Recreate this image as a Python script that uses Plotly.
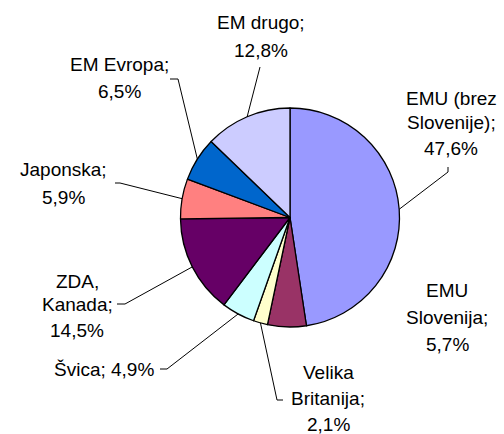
import math
import plotly.graph_objects as go

W, H = 504, 434

# ---- data ----
categories = ["EMU (brez\nSlovenije)", "EMU\nSlovenija", "Velika\nBritanija", "Švica",
              "ZDA,\nKanada", "Japonska", "EM Evropa", "EM drugo"]
values = [47.6, 5.7, 2.1, 4.9, 14.5, 5.9, 6.5, 12.8]
colors = ["#9999FF", "#993366", "#FFFFCC", "#CCFFFF", "#660066", "#FF8080", "#0066CC", "#CCCCFF"]
separators = ["\n", "\n", "\n", " ", "\n", "\n", "\n", "\n"]

# ---- layout (pixels) ----
CX, CY, R = 290.0, 217.5, 109.5
FONT = dict(family="Liberation Sans, Arial, sans-serif", size=19, color="#000000")
# centre x of label, y of each text line
label_pos = [
    (451, [98, 123, 148]),
    (447, [290, 317, 344]),
    (328, [372, 398, 424]),
    (104, [369]),
    (77, [281, 304, 330]),
    (63, [169, 197]),
    (119, [65, 92]),
    (261, [22, 50]),
]
# leader line points from label side (None = no line); edge point appended from data
leaders = [
    [(448, 167), (448, 172)],
    None,
    [(283, 400), (277, 400)],
    [(160, 369), (167, 369)],
    [(117, 304), (125, 304)],
    [(115, 183), (120, 183)],
    [(170, 79), (178, 79)],
    [(260, 67)],
]

def px(x):
    return x / W

def py(y):
    return 1 - y / H

fig = go.Figure(go.Pie(
    labels=[c.replace("\n", " ") for c in categories],
    values=values,
    sort=False,
    direction="clockwise",
    rotation=0,
    marker=dict(colors=colors, line=dict(color="#000000", width=1.3)),
    textinfo="none",
    hoverinfo="label+percent",
    showlegend=False,
    domain=dict(x=[px(CX - R), px(CX + R)], y=[py(CY + R), py(CY - R)]),
))

annotations = []
shapes = []
total = sum(values)
cum = 0.0
for i, (cat, val) in enumerate(zip(categories, values)):
    mid = (cum + val / 2) / total * 2 * math.pi
    cum += val
    ex = CX + R * math.sin(mid)
    ey = CY - R * math.cos(mid)
    text = cat + ";" + separators[i] + f"{val:.1f}%".replace(".", ",")
    lines = text.split("\n")
    lx, ys = label_pos[i]
    for ln, yy in zip(lines, ys):
        annotations.append(dict(
            x=px(lx), y=py(yy), xref="paper", yref="paper", text=ln,
            showarrow=False, xanchor="center", yanchor="middle", font=FONT,
        ))
    if leaders[i]:
        pts = leaders[i] + [(ex, ey)]
        for (a1, b1), (a2, b2) in zip(pts[:-1], pts[1:]):
            shapes.append(dict(type="line", xref="paper", yref="paper",
                               x0=px(a1), y0=py(b1), x1=px(a2), y1=py(b2),
                               line=dict(color="#000000", width=1)))

fig.update_layout(
    width=W, height=H,
    margin=dict(l=0, r=0, t=0, b=0),
    paper_bgcolor="#FFFFFF",
    plot_bgcolor="#FFFFFF",
    annotations=annotations,
    shapes=shapes,
)

fig.write_html("out.html", config={"displayModeBar": False},
               post_script="document.body.style.margin='0';document.body.style.padding='0';")
